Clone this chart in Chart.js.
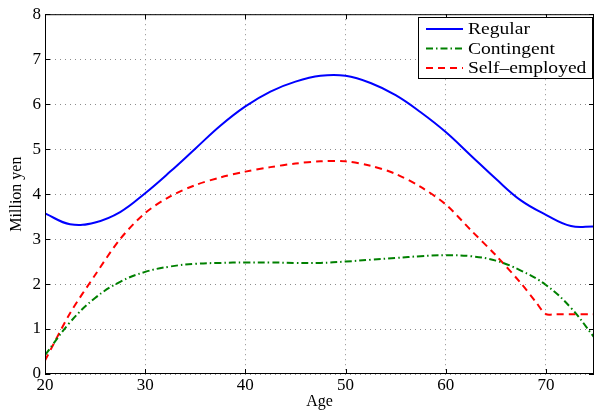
<!DOCTYPE html>
<html>
<head>
<meta charset="utf-8">
<script src="https://cdn.jsdelivr.net/npm/chart.js@4/dist/chart.umd.min.js"></script>
<style>
  html, body { margin: 0; padding: 0; background: #fff; }
  #canvas { display: block; }
</style>
</head>
<body>
<canvas id="canvas" width="594" height="411"></canvas>
<script>
// values (million yen by age)
const regularAges = [20, 22.5, 25, 27.5, 30, 32.5, 35, 37.5, 40, 42.5, 45, 47.5, 50, 52.5, 55, 57.5, 60, 62.5, 65, 67.5, 70, 72.5, 74.8];
const regularValues = [3.57, 3.33, 3.37, 3.6, 4.02, 4.5, 5.01, 5.52, 5.95, 6.28, 6.5, 6.63, 6.63, 6.47, 6.2, 5.82, 5.38, 4.86, 4.34, 3.86, 3.54, 3.29, 3.28];

const contingentAges = [20, 22.5, 25, 27.5, 30, 32.5, 35, 37.5, 40, 42.5, 45, 47.5, 50, 52.5, 55, 57.5, 60, 62.5, 65, 67.5, 70, 72.5, 74.8];
const contingentValues = [0.42, 1.15, 1.69, 2.05, 2.27, 2.39, 2.45, 2.47, 2.48, 2.48, 2.47, 2.47, 2.5, 2.54, 2.58, 2.62, 2.64, 2.62, 2.52, 2.3, 1.98, 1.47, 0.82];

const selfAges = [20, 22.5, 25, 27.5, 30, 32.5, 35, 37.5, 40, 42.5, 45, 47.5, 50, 52.5, 55, 57.5, 60, 62.5, 65, 67.5, 69, 70, 71, 72.5, 74.8];
const selfValues = [0.3, 1.35, 2.2, 3.0, 3.58, 3.95, 4.2, 4.37, 4.5, 4.6, 4.68, 4.73, 4.73, 4.63, 4.45, 4.16, 3.77, 3.2, 2.64, 2.02, 1.6, 1.33, 1.33, 1.33, 1.33];

const seriesLabels = ['Regular', 'Contingent', 'Self\u2013employed'];
const xTicks = [20, 30, 40, 50, 60, 70];
const yTicks = [0, 1, 2, 3, 4, 5, 6, 7, 8];

const serif = '"Liberation Serif", "Times New Roman", serif';

function pts(ages, vals) {
    return ages.map((a, i) => ({ x: a, y: vals[i] }));
}

// box round the plot with inward tick marks, matlab style
const framePlugin = {
    id: 'frame',
    afterDatasetsDraw(chart) {
        const { ctx, chartArea: a, scales } = chart;
        ctx.save();
        ctx.strokeStyle = '#000';
        ctx.lineWidth = 1;
        ctx.setLineDash([]);
        ctx.strokeRect(a.left + 0.5, a.top + 0.5, a.right - a.left - 1, a.bottom - a.top - 1);
        ctx.beginPath();
        const len = 5;
        xTicks.forEach(v => {
            const x = Math.round(scales.x.getPixelForValue(v)) + 0.5;
            ctx.moveTo(x, a.bottom); ctx.lineTo(x, a.bottom - len);
            ctx.moveTo(x, a.top); ctx.lineTo(x, a.top + len);
        });
        yTicks.forEach(v => {
            const y = Math.round(scales.y.getPixelForValue(v)) + 0.5;
            ctx.moveTo(a.left, y); ctx.lineTo(a.left + len, y);
            ctx.moveTo(a.right, y); ctx.lineTo(a.right - len, y);
        });
        ctx.stroke();
        ctx.restore();
    }
};

// legend box in the top right corner of the plot
const boxLegend = {
    id: 'boxLegend',
    afterDraw(chart) {
        const { ctx } = chart;
        const bx = 418, by = 17, bw = 174, bh = 61;
        ctx.save();
        ctx.fillStyle = '#fff';
        ctx.fillRect(bx, by, bw, bh);
        ctx.strokeStyle = '#000';
        ctx.lineWidth = 1;
        ctx.strokeRect(bx + 0.5, by + 0.5, bw, bh);
        const rows = [29, 48.5, 68];
        chart.data.datasets.forEach((ds, i) => {
            const y = rows[i];
            ctx.beginPath();
            ctx.strokeStyle = ds.borderColor;
            ctx.lineWidth = ds.borderWidth;
            ctx.setLineDash(ds.borderDash || []);
            ctx.moveTo(426, y);
            ctx.lineTo(463, y);
            ctx.stroke();
            ctx.setLineDash([]);
            ctx.save();
            ctx.translate(468, y);
            ctx.scale(1.15, 1);
            ctx.fillStyle = '#000';
            ctx.font = '17px ' + serif;
            ctx.textBaseline = 'middle';
            ctx.fillText(ds.label, 0, 1);
            ctx.restore();
        });
        ctx.restore();
    }
};

const ctx = document.getElementById('canvas').getContext('2d');
new Chart(ctx, {
    type: 'line',
    data: {
        datasets: [
            { label: seriesLabels[0], data: pts(regularAges, regularValues), borderColor: '#0000ff', borderWidth: 2, pointRadius: 0, tension: 0.4 },
            { label: seriesLabels[1], data: pts(contingentAges, contingentValues), borderColor: '#008000', borderWidth: 2, borderDash: [7, 3, 1.5, 3], pointRadius: 0, tension: 0.4 },
            { label: seriesLabels[2], data: pts(selfAges, selfValues), borderColor: '#ff0000', borderWidth: 2, borderDash: [7, 5], pointRadius: 0, tension: 0.3 }
        ]
    },
    options: {
        responsive: false,
        animation: false,
        layout: { padding: { top: 13, right: 0, left: 0, bottom: 0 } },
        plugins: { legend: { display: false }, tooltip: { enabled: false } },
        scales: {
            x: {
                type: 'linear',
                min: 20,
                max: 74.8,
                afterBuildTicks: (s) => { s.ticks = xTicks.map(v => ({ value: v })); },
                afterFit: (s) => { s.height = 37; },
                ticks: { color: '#000', font: { family: serif, size: 17 }, padding: 1, maxRotation: 0 },
                grid: { color: '#8c8c8c', lineWidth: 1, drawTicks: false },
                border: { display: false, dash: [1, 4] },
                title: { display: true, text: 'Age', color: '#000', font: { family: serif, size: 16 }, padding: 0 }
            },
            y: {
                min: 0,
                max: 8,
                afterBuildTicks: (s) => { s.ticks = yTicks.map(v => ({ value: v })); },
                afterFit: (s) => { s.width = 45; },
                ticks: { color: '#000', font: { family: serif, size: 17 }, padding: 4 },
                grid: { color: '#8c8c8c', lineWidth: 1, drawTicks: false },
                border: { display: false, dash: [1, 4] },
                title: { display: true, text: 'Million yen', color: '#000', font: { family: serif, size: 16 }, padding: 7 }
            }
        }
    },
    plugins: [framePlugin, boxLegend]
});
</script>
</body>
</html>
